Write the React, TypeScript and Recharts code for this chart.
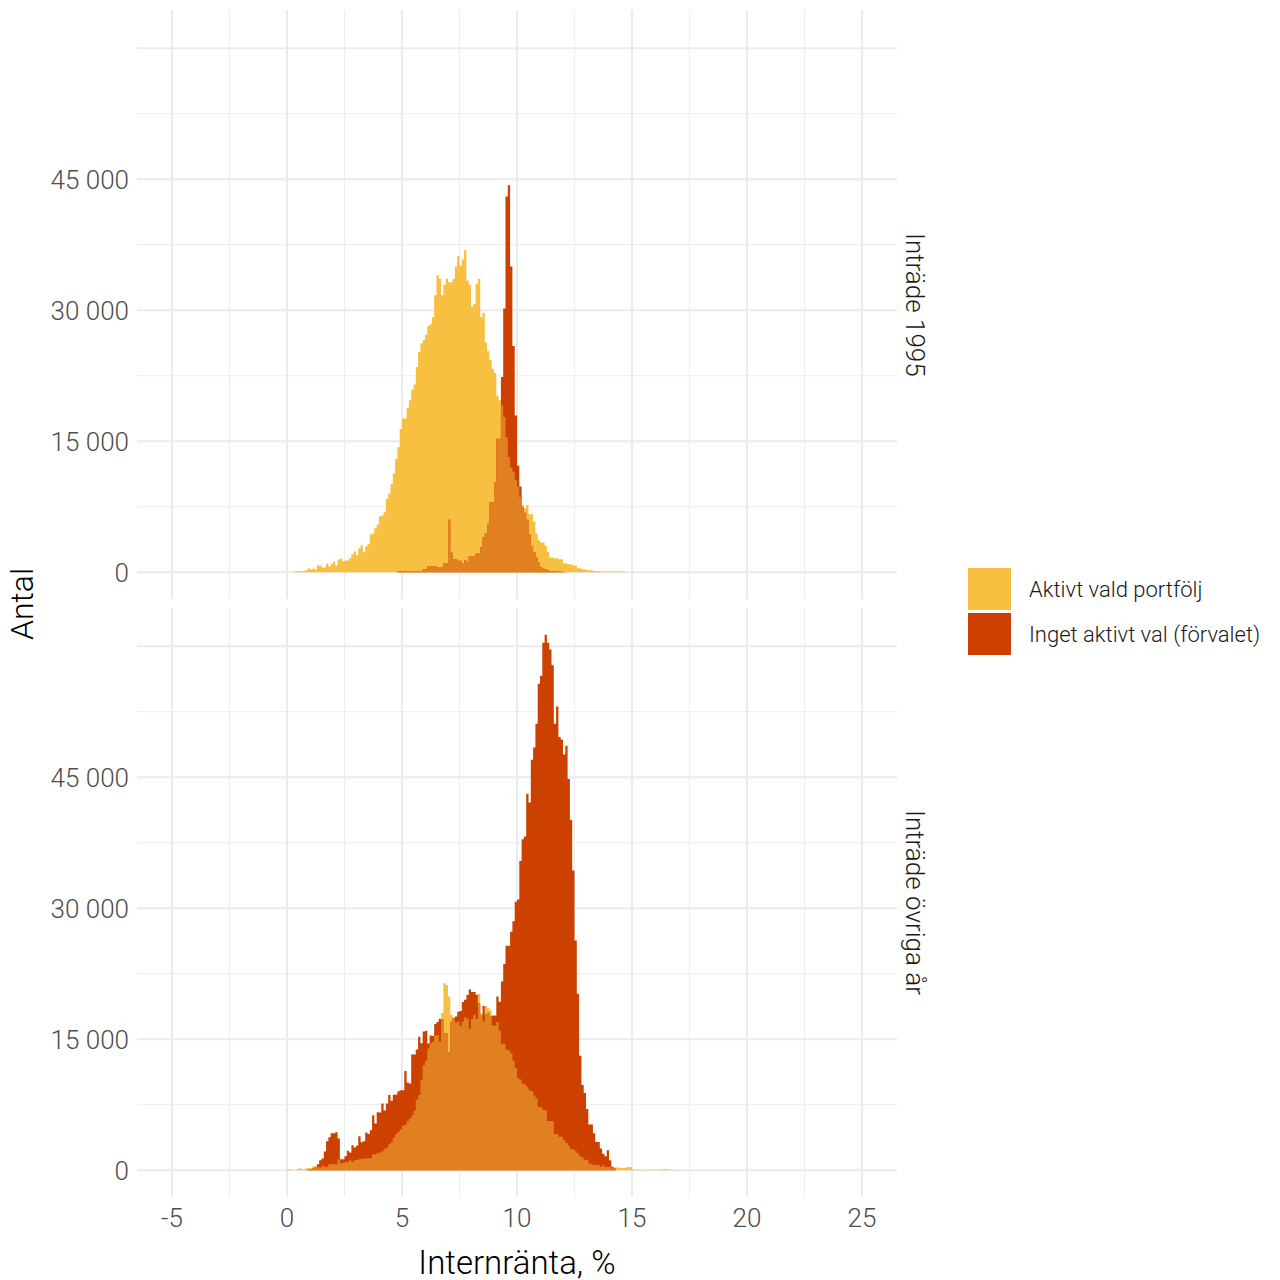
import { ComposedChart, Area, XAxis, YAxis, CartesianGrid } from 'recharts';

// bin width is 0.1 percentage points; bin k covers [k/10, (k+1)/10)
const BIN = 0.1;

// Inträde 1995
const ACTIVE_1995_START = 3;
const ACTIVE_1995 = [
  76, 100, 115, 115, 150, 230, 420, 300, 420, 300, 760, 760, 530, 530, 1000, 650, 920, 1220, 760, 1450,
  1570, 1220, 1340, 1340, 1600, 2060, 2370, 1950, 2750, 3100, 2290, 2980, 3200, 4350, 4430, 5040, 5460, 6420, 6500, 6880,
  8400, 9000, 10100, 11300,
  13000, 14300, 16400, 17600, 17600, 18800, 19700, 20900, 21500, 23500, 25200, 26200, 26600, 27200, 28200, 28400,
  29200, 31700, 34000, 33600, 31700, 32900, 33600, 33200, 33200, 33600, 35000, 36200, 35100, 35800, 36900, 33400,
  32900, 30400, 30700, 33000, 33600, 29200, 29700, 26300, 25300, 24300, 23300, 22800, 20200, 19700, 19100, 17760, 15470,
  13200, 12000, 11500, 10600, 9800, 8600, 7700, 7330, 7700, 6650, 6650, 5800, 4470, 3670, 3400, 3400, 3020, 2330,
  1680, 1680, 1600, 1600, 1490, 1490, 990, 990, 920, 920, 760, 760, 460, 460, 340, 340, 230, 230, 230, 150, 150, 150,
  80, 80, 80, 80, 76, 76, 76, 76, 76, 76, 76, 0, 40, 0, 40,
];
const DEFAULT_1995_START = 48;
const DEFAULT_1995 = [
  110, 110, 110, 110, 50, 150, 150, 150, 150, 150, 150, 340, 340, 720, 720, 720, 720, 610, 610, 610,
  1070, 1070, 6000, 2250, 1500, 1500, 1300, 1300, 990, 1410, 1100, 1800, 1870, 1870, 2140, 2140, 2870, 4010, 4430, 5540,
  8000, 8000, 10300, 15280, 15280, 22350, 30200, 43000, 44300, 35000, 25900, 17950, 12200, 9800, 7400, 6800, 6000, 4300,
  3000, 2300, 1700, 1100, 600, 400, 300, 230, 150, 150, 100, 80, 60, 60, 40,
];

// Inträde övriga år
const ACTIVE_OTHER_START = 0;
const ACTIVE_OTHER = [
  80, 80, 80, 40, 80, 230, 115, 115, 230, 230, 230, 460, 460, 400, 300, 500, 400, 400, 690, 690,
  690, 690, 1220, 800, 800, 950, 950, 1150, 900, 1150, 1180, 1260, 1300, 1300, 1340, 1375, 1375, 1800, 1830, 2000,
  2000, 2180, 2440, 2560, 2980, 3210, 3740, 4160, 4390,
  4700, 5080, 5200, 5610, 5920, 6260, 6800, 8100, 8600, 10300, 12030, 12530, 13940, 14520, 14700, 15360, 15470, 14700,
  18000, 21400, 21200, 19900, 17800, 17500, 16900, 17000, 16500, 17000, 17500, 17300, 16200, 17300, 17800, 17300,
  20170, 18000, 17000, 18800, 18600, 18300, 16560, 16560, 16960, 16000, 14470,
  14470, 13790, 13700, 13400, 12540, 11740, 10530, 10400, 9930, 9800, 9530, 9170, 9040, 8560, 8240, 7240, 7240, 6910,
  6830, 5630, 5630, 5600, 4140, 4140, 3820, 3820, 3420, 3140, 2810, 2410, 2410, 2210, 1930, 1610, 1450, 1210, 1210,
  800, 680, 600, 600, 600, 400, 570, 380, 380, 380, 200, 300, 300, 300, 250, 250, 300, 380, 380, 100,
  40, 76, 40, 40, 76, 40, 76, 40, 115, 40, 76, 40, 115, 115, 115, 76, 40, 40, 40, 0, 0, 0, 0, 0, 0, 40, 0, 0, 0, 0, 0, 40, 0,
];
const DEFAULT_OTHER_START = 9;
const DEFAULT_OTHER = [
  80, 100, 230, 300, 690, 1150, 1340, 2140, 3320, 3780, 4240, 4240, 4350, 3630, 1260, 1260, 1600, 2220, 2020, 2870,
  2600, 2830, 3900, 3210, 3320, 4320, 4160, 4580, 6300, 5350, 6650, 6610, 7640, 6840, 7640, 8600, 7950, 8630, 8670, 9050,
  9170, 9170, 11350, 10050, 9930, 13260, 13260, 13830, 15280, 14550, 15890, 15970, 14520, 15430, 15360, 16730, 16960,
  17340, 17300, 15700, 15700, 13500, 17000, 17400, 17600, 18150, 18220, 19250, 19520, 20060, 20700, 20400, 20400, 20100,
  19100, 17760, 18800, 17840, 18030, 17650, 17700, 17700, 19900, 19300, 21600,
  23600, 25700, 25700, 27300, 28500, 30750, 31000, 35400, 37900, 38200, 43100, 42100, 47000, 48400, 51100, 55700,
  56600, 60400, 61300, 60400, 59600, 57800, 51100, 53100, 49600, 49300, 47600, 48600, 44800, 40100, 34300, 26300,
  20200, 13100, 9770, 8840, 7000, 5230, 5230, 4220, 3220, 3220, 2490, 1890, 1610, 2290, 1130, 400, 200, 0,
];

const X_TICKS = [-5, 0, 5, 10, 15, 20, 25];
const X_MINOR = [-2.5, 2.5, 7.5, 12.5, 17.5, 22.5];
const Y_TICKS = [0, 15000, 30000, 45000];
const Y_MAJOR = [0, 15000, 30000, 45000, 60000];
const Y_MINOR = [7500, 22500, 37500, 52500];

const SERIES = ['Aktivt vald portfölj', 'Inget aktivt val (förvalet)'];
const PANELS = ['Inträde 1995', 'Inträde övriga år'];

const YELLOW = '#F7C040';
const RED = '#CC4100';
const OVERLAP = '#E18020';
const FONT = 'Roboto, "Open Sans", sans-serif';

function buildRows(aStart: number, a: number[], dStart: number, d: number[]) {
  const lo = Math.min(aStart, dStart);
  const hi = Math.max(aStart + a.length, dStart + d.length);
  const rows = [];
  for (let k = lo; k <= hi; k++) {
    const av = k >= aStart && k < aStart + a.length ? a[k - aStart] : 0;
    const dv = k >= dStart && k < dStart + d.length ? d[k - dStart] : 0;
    rows.push({ x: +(k * BIN).toFixed(1), active: av, deflt: dv, both: Math.min(av, dv) });
  }
  return rows;
}

const rows1995 = buildRows(ACTIVE_1995_START, ACTIVE_1995, DEFAULT_1995_START, DEFAULT_1995);
const rowsOther = buildRows(ACTIVE_OTHER_START, ACTIVE_OTHER, DEFAULT_OTHER_START, DEFAULT_OTHER);

const fmt = (v: number) => String(v).replace(/\B(?=(\d{3})+(?!\d))/g, ' ');

function Panel({ data, showX, height }: { data: any[]; showX: boolean; height: number }) {
  return (
    <ComposedChart width={897} height={height} data={data} margin={{ top: 10, right: 0, bottom: 0, left: 0 }}>
      <CartesianGrid horizontalValues={Y_MINOR} verticalValues={X_MINOR} stroke="#EDEDED" strokeWidth={1} />
      <CartesianGrid horizontalValues={Y_MAJOR} verticalValues={X_TICKS} stroke="#EBEBEB" strokeWidth={2} />
      <XAxis
        type="number"
        dataKey="x"
        domain={[-6.52, 26.52]}
        ticks={X_TICKS}
        allowDataOverflow
        hide={!showX}
        height={showX ? 60 : 0}
        tickLine={false}
        axisLine={false}
        tickMargin={6}
        tick={{ fill: '#4D4D4D', fontSize: 26, fontFamily: FONT, fontWeight: 300 }}
      />
      <YAxis
        type="number"
        domain={[-3065, 64365]}
        ticks={Y_TICKS}
        allowDataOverflow
        width={137}
        tickLine={false}
        axisLine={false}
        tickMargin={2}
        tickFormatter={fmt}
        tick={{ fill: '#4D4D4D', fontSize: 26, fontFamily: FONT, fontWeight: 300, dy: 1 }}
      />
      <Area type="stepAfter" dataKey="active" fill={YELLOW} fillOpacity={1} stroke="none" baseValue={0} isAnimationActive={false} />
      <Area type="stepAfter" dataKey="deflt" fill={RED} fillOpacity={1} stroke="none" baseValue={0} isAnimationActive={false} />
      <Area type="stepAfter" dataKey="both" fill={OVERLAP} fillOpacity={1} stroke="none" baseValue={0} isAnimationActive={false} />
    </ComposedChart>
  );
}

const textBase = { position: 'absolute' as const, fontFamily: FONT, fontWeight: 300, color: '#1A1A1A', whiteSpace: 'nowrap' as const };

export default function App() {
  return (
    <div style={{ position: 'absolute', left: 0, top: 0, width: 1280, height: 1280, background: '#fff' }}>
      <div style={{ position: 'absolute', left: 0, top: 0 }}>
        <Panel data={rows1995} showX={false} height={599} />
      </div>
      <div style={{ position: 'absolute', left: 0, top: 598 }}>
        <Panel data={rowsOther} showX height={659} />
      </div>

      {PANELS.map((p, i) => (
        <div
          key={p}
          style={{
            ...textBase,
            fontSize: 26,
            left: 900,
            top: i === 0 ? 10 : 608,
            height: 589,
            width: 30,
            writingMode: 'vertical-rl',
            textAlign: 'center',
            lineHeight: '30px',
          }}
        >
          {p}
        </div>
      ))}

      <div
        style={{
          ...textBase,
          fontSize: 33,
          color: '#000',
          left: 517,
          top: 1262,
          transform: 'translate(-50%, -50%)',
        }}
      >
        Internränta, %
      </div>
      <div
        style={{
          ...textBase,
          fontSize: 32,
          color: '#000',
          left: 22,
          top: 604,
          transform: 'translate(-50%, -50%) rotate(-90deg)',
        }}
      >
        Antal
      </div>

      {SERIES.map((s, i) => (
        <div key={s}>
          <div
            style={{
              position: 'absolute',
              left: 968,
              top: 568 + i * 45,
              width: 43,
              height: 42,
              background: i === 0 ? YELLOW : RED,
            }}
          />
          <div style={{ ...textBase, fontSize: 22, left: 1029, top: 589 + i * 45, transform: 'translateY(-50%)' }}>{s}</div>
        </div>
      ))}
    </div>
  );
}
